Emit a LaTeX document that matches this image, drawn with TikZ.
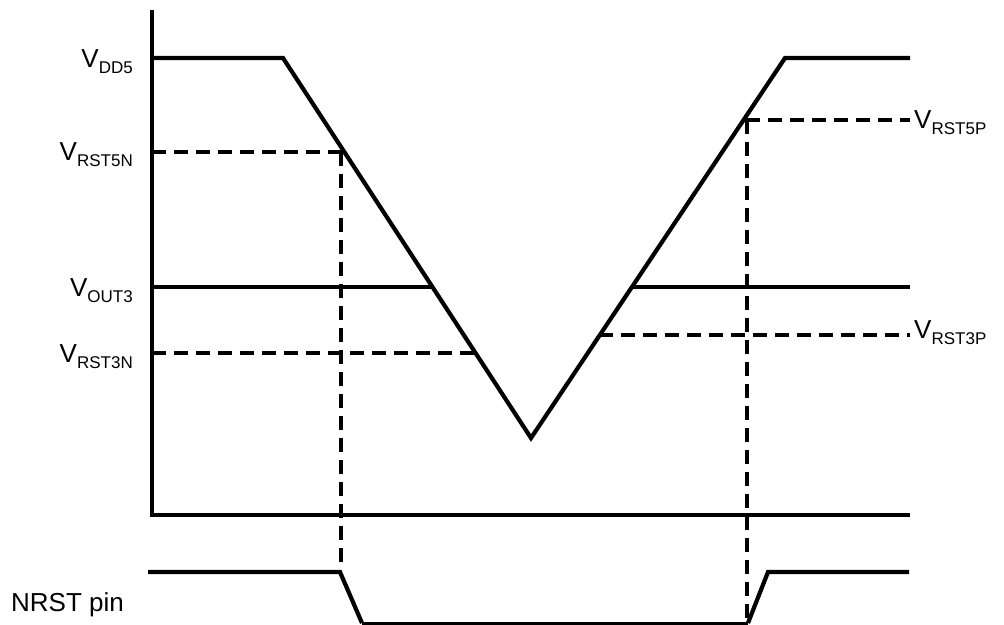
\documentclass[tikz,border=0pt]{standalone}
\usepackage{fontspec}
\setmainfont{Liberation Sans}
\usetikzlibrary{positioning}
\newcommand{\volt}[1]{V\raisebox{-6.5pt}{\fontsize{17}{17}\selectfont #1}}

\begin{document}
\begin{tikzpicture}[
        x=1pt, y=-1pt,
        sigline/.style={line width=4.2pt, line join=miter},
        axline/.style={line width=3.4pt},
        thrline/.style={line width=4pt, dash pattern=on 14pt off 8pt},
        lvl/.style={font=\fontsize{26}{30}\selectfont, inner sep=0pt}
    ]
        \useasboundingbox (0,0) rectangle (1004,624);

        % Key points of the supply curve
        \coordinate (top1) at (283,58);
        \coordinate (vmin) at (531,438);
        \coordinate (top2) at (785,58);
        \coordinate (c5n) at (343,152);
        \coordinate (c5p) at (746,120);

        % Axes
        \draw[sigline] (152,10) -- (152,516);
        \draw[axline] (150,515) -- (910,515);

        % Thresholds
        \draw[thrline] (152,152) -- (c5n);
        \draw[thrline] (152,353) -- (475,353);
        \draw[thrline] (599,335) -- (910,335);
        \draw[thrline] (c5p) -- (910,120);
        \draw[sigline] (152,287) -- (432,287);
        \draw[sigline] (632,287) -- (910,287);

        % Supply voltage
        \draw[sigline] (152,58) -- (top1) -- (vmin) -- (top2) -- (910,58);

        % Reset markers
        \draw[thrline] (341,152) -- (341,570);
        \draw[thrline] (747,120) -- (747,620);

        % NRST pin
        \draw[sigline] (148,572) -- (340,572) -- (362,623);
        \draw[line width=3.4pt] (362,623.5) -- (748,623.5);
        \draw[sigline] (748,623) -- (768,572) -- (909,572);

        % Labels
        \node[lvl, anchor=base east] (lvdd) at (133,67) {\volt{DD5}};
        \node[lvl, anchor=base east] (lv5n) at (133,160) {\volt{RST5N}};
        \node[lvl, anchor=base east] (lvout) at (133,296) {\volt{OUT3}};
        \node[lvl, anchor=base east] (lv3n) at (133,362) {\volt{RST3N}};
        \node[lvl, anchor=base west] (lv5p) at (914,128) {\volt{RST5P}};
        \node[lvl, anchor=base west] (lv3p) at (914,338) {\volt{RST3P}};
        \node[lvl, anchor=base west] (lnrst) at (11,611) {NRST pin};
    \end{tikzpicture}
\end{document}
